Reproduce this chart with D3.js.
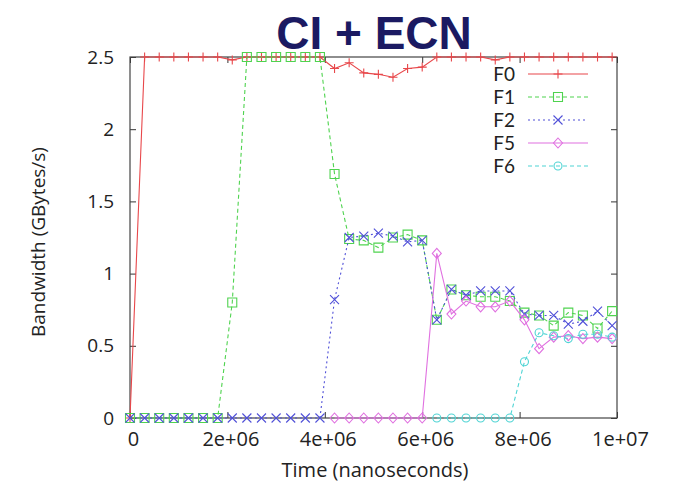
<!DOCTYPE html>
<html>
<head>
<meta charset="utf-8">
<script src="https://cdn.jsdelivr.net/npm/d3@7"></script>
<style>
  body { margin: 0; background: #fff; }
  svg { display: block; }
</style>
</head>
<body>
<script>
// sample times (ns)
var times = [0, 3e5, 6e5, 9e5, 1.2e6, 1.5e6, 1.8e6, 2.1e6, 2.4e6, 2.7e6, 3.0e6, 3.3e6,
             3.6e6, 3.9e6, 4.2e6, 4.5e6, 4.8e6, 5.1e6, 5.4e6, 5.7e6, 6.0e6, 6.3e6, 6.6e6,
             6.9e6, 7.2e6, 7.5e6, 7.8e6, 8.1e6, 8.4e6, 8.7e6, 9.0e6, 9.3e6, 9.6e6, 9.9e6];

var f0 = [0, 2.5, 2.5, 2.5, 2.5, 2.5, 2.5, 2.48, 2.5, 2.5, 2.5, 2.5, 2.5, 2.5,
          2.42, 2.46, 2.39, 2.38, 2.36, 2.42, 2.43, 2.5, 2.5, 2.5, 2.5, 2.48, 2.5,
          2.5, 2.5, 2.5, 2.5, 2.5, 2.5, 2.5];
var f1 = [0, 0, 0, 0, 0, 0, 0, 0.80, 2.5, 2.5, 2.5, 2.5, 2.5, 2.5,
          1.69, 1.24, 1.23, 1.18, 1.25, 1.27, 1.23, 0.68, 0.89, 0.85, 0.84, 0.84, 0.81,
          0.73, 0.71, 0.64, 0.73, 0.71, 0.62, 0.74];
var f2 = [0, 0, 0, 0, 0, 0, 0, 0, 0, 0, 0, 0, 0, 0,
          0.82, 1.25, 1.26, 1.28, 1.26, 1.22, 1.23, 0.68, 0.89, 0.85, 0.88, 0.88, 0.88,
          0.72, 0.71, 0.71, 0.65, 0.67, 0.74, 0.64];
var f5 = [null, null, null, null, null, null, null, null, null, null, null, null, null, null,
          0, 0, 0, 0, 0, 0, 0, 1.14, 0.72, 0.81, 0.77, 0.77, 0.81,
          0.68, 0.48, 0.56, 0.57, 0.55, 0.56, 0.55];
var f6 = [null, null, null, null, null, null, null, null, null, null, null, null, null, null,
          null, null, null, null, null, null, null, 0, 0, 0, 0, 0, 0,
          0.39, 0.59, 0.57, 0.55, 0.58, 0.58, 0.56];

var seriesNames = ["F0", "F1", "F2", "F5", "F6"];
var seriesValues = [f0, f1, f2, f5, f6];
var seriesColors = ["#e8474a", "#4fd34f", "#5050d8", "#e070e0", "#4fd4d4"];
var seriesDash = ["none", "4,3", "2,3", "none", "4,3"];
var seriesMarks = ["plus", "square", "times", "diamond", "circle"];

var xTicks = [0, 2e6, 4e6, 6e6, 8e6, 1e7];
var xTickLabels = ["0", "2e+06", "4e+06", "6e+06", "8e+06", "1e+07"];
var yTicks = [0, 0.5, 1, 1.5, 2, 2.5];
var yTickLabels = ["0", "0.5", "1", "1.5", "2", "2.5"];

var W = 675, H = 488;
var pLeft = 130, pRight = 617, pTop = 57, pBottom = 418;

var svg = d3.select("body").append("svg")
    .attr("width", W)
    .attr("height", H);

var x = d3.scaleLinear().domain([0, 1e7]).range([pLeft, pRight]);
var y = d3.scaleLinear().domain([0, 2.5]).range([pBottom, pTop]);

// title
svg.append("text")
   .attr("x", 374).attr("y", 49)
   .attr("text-anchor", "middle")
   .style("font-family", "'Liberation Sans', Arial, sans-serif")
   .style("font-weight", "bold")
   .style("font-size", "46px")
   .style("fill", "#1b1a62")
   .text("CI + ECN");

var labelFont = "'Open Sans', sans-serif";

// axes (gnuplot-like, ticks inside, mirrored)
var gx = svg.append("g")
   .attr("transform", "translate(0," + pBottom + ")")
   .call(d3.axisBottom(x).tickValues(xTicks).tickSize(-6).tickPadding(14)
           .tickFormat(function(d, i) { return xTickLabels[i]; }));
var gxTop = svg.append("g")
   .attr("transform", "translate(0," + pTop + ")")
   .call(d3.axisTop(x).tickValues(xTicks).tickSize(-6).tickFormat(""));
var gy = svg.append("g")
   .attr("transform", "translate(" + pLeft + ",0)")
   .call(d3.axisLeft(y).tickValues(yTicks).tickSize(-6).tickPadding(16)
           .tickFormat(function(d, i) { return yTickLabels[i]; }));
var gyRight = svg.append("g")
   .attr("transform", "translate(" + pRight + ",0)")
   .call(d3.axisRight(y).tickValues(yTicks).tickSize(-6).tickFormat(""));

[gx, gxTop, gy, gyRight].forEach(function(g) {
  g.select(".domain").remove();
  g.selectAll("line").attr("stroke", "#333");
});
gx.selectAll("text").attr("dx", 3)
  .style("font-family", labelFont).style("font-size", "20px").style("fill", "#222");
gy.selectAll("text").style("font-family", labelFont).style("font-size", "19px").style("fill", "#222");

svg.append("rect")
   .attr("x", pLeft).attr("y", pTop)
   .attr("width", pRight - pLeft).attr("height", pBottom - pTop)
   .attr("fill", "none")
   .attr("stroke", "#444")
   .attr("stroke-width", 1.2);

// axis titles
svg.append("text")
   .attr("x", 375).attr("y", 477)
   .attr("text-anchor", "middle")
   .style("font-family", labelFont).style("font-size", "20px").style("fill", "#222")
   .text("Time (nanoseconds)");
svg.append("text")
   .attr("transform", "translate(45,242) rotate(-90)")
   .attr("text-anchor", "middle")
   .style("font-family", labelFont).style("font-size", "19px").style("fill", "#222")
   .text("Bandwidth (GBytes/s)");

// marker shapes
function markPath(type) {
  var r = 4.5;
  if (type == "plus") return "M" + (-r) + ",0H" + r + "M0," + (-r) + "V" + r;
  if (type == "times") return "M" + (-r) + "," + (-r) + "L" + r + "," + r + "M" + (-r) + "," + r + "L" + r + "," + (-r);
  if (type == "square") return "M-4.5,-4.5H4.5V4.5H-4.5Z";
  if (type == "diamond") return "M0,-5L4.5,0L0,5L-4.5,0Z";
  return "M4,0A4,4 0 1,1 -4,0A4,4 0 1,1 4,0Z";
}

var line = d3.line()
    .defined(function(d) { return d.v != null; })
    .x(function(d) { return x(d.t); })
    .y(function(d) { return y(d.v); });

var plot = svg.append("g");

seriesValues.forEach(function(vals, k) {
  var pts = vals.map(function(v, i) { return {t: times[i], v: v}; });
  var g = plot.append("g");
  g.append("path")
   .datum(pts)
   .attr("d", line)
   .attr("fill", "none")
   .attr("stroke", seriesColors[k])
   .attr("stroke-width", 1.1)
   .attr("stroke-dasharray", seriesDash[k]);
  g.selectAll("path.mark")
   .data(pts.filter(function(d) { return d.v != null; }))
   .enter()
   .append("path")
   .attr("class", "mark")
   .attr("transform", function(d) { return "translate(" + x(d.t) + "," + y(d.v) + ")"; })
   .attr("d", markPath(seriesMarks[k]))
   .attr("fill", "none")
   .attr("stroke", seriesColors[k])
   .attr("stroke-width", 1.1);
});

// legend
var legend = svg.append("g");
seriesNames.forEach(function(name, k) {
  var by = 81 + k * 23;
  legend.append("text")
     .attr("x", 515).attr("y", by)
     .attr("text-anchor", "end")
     .style("font-family", "Lato, sans-serif").style("font-size", "19px").style("fill", "#222")
     .text(name);
  legend.append("line")
     .attr("x1", 528).attr("x2", 588)
     .attr("y1", by - 7).attr("y2", by - 7)
     .attr("stroke", seriesColors[k])
     .attr("stroke-width", 1.1)
     .attr("stroke-dasharray", seriesDash[k]);
  legend.append("path")
     .attr("transform", "translate(558," + (by - 7) + ")")
     .attr("d", markPath(seriesMarks[k]))
     .attr("fill", "none")
     .attr("stroke", seriesColors[k])
     .attr("stroke-width", 1.1);
});
</script>
</body>
</html>
